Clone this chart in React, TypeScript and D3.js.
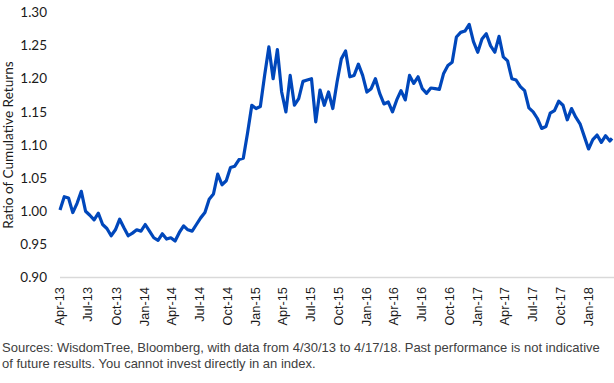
import * as d3 from 'd3';
import React, { useEffect, useRef } from 'react';

const WIDTH = 614;
const HEIGHT = 383;

// Series sampled every two weeks, starting 4/30/13
const START_DATE = "2013-04-30";
const END_DATE = "2018-04-17";
const STEP_DAYS = 14;

const ratioValues: number[] = [
  1.002, 1.022, 1.020, 0.998, 1.012, 1.030, 1.000, 0.994, 0.987, 0.997,
  0.980, 0.974, 0.963, 0.972, 0.988, 0.975, 0.963, 0.967, 0.972, 0.970,
  0.980, 0.970, 0.960, 0.956, 0.966, 0.958, 0.960, 0.955, 0.968, 0.978,
  0.972, 0.970, 0.980, 0.990, 0.998, 1.018, 1.026, 1.056, 1.040, 1.046,
  1.066, 1.068, 1.078, 1.080, 1.118, 1.160, 1.155, 1.158, 1.205, 1.248,
  1.200, 1.244, 1.180, 1.150, 1.205, 1.160, 1.170, 1.196, 1.198, 1.200,
  1.135, 1.183, 1.160, 1.180, 1.155, 1.195, 1.230, 1.242, 1.203, 1.205,
  1.222, 1.205, 1.180, 1.185, 1.200, 1.178, 1.162, 1.165, 1.150, 1.168,
  1.182, 1.168, 1.205, 1.193, 1.203, 1.185, 1.178, 1.186, 1.185, 1.184,
  1.208, 1.220, 1.225, 1.263, 1.270, 1.272, 1.282, 1.256, 1.240, 1.260,
  1.268, 1.250, 1.240, 1.264, 1.233, 1.227, 1.200, 1.198, 1.188, 1.182,
  1.156, 1.150, 1.140, 1.125, 1.128, 1.148, 1.152, 1.166, 1.160, 1.138,
  1.155, 1.142, 1.132, 1.113, 1.094, 1.108, 1.115, 1.104, 1.114, 1.106
];
const lastValue = 1.110;

const yTicks = [0.90, 0.95, 1.00, 1.05, 1.10, 1.15, 1.20, 1.25, 1.30];

// Quarterly axis labels, anchored at month ends
const xTickDates = [
  "2013-04-30", "2013-07-31", "2013-10-31", "2014-01-31", "2014-04-30",
  "2014-07-31", "2014-10-31", "2015-01-31", "2015-04-30", "2015-07-31",
  "2015-10-31", "2016-01-31", "2016-04-30", "2016-07-31", "2016-10-31",
  "2017-01-31", "2017-04-30", "2017-07-31", "2017-10-31", "2018-01-31"
];

const footnoteLines = [
  "Sources: WisdomTree, Bloomberg, with data from 4/30/13 to 4/17/18. Past performance is not indicative",
  "of future results. You cannot invest directly in an index."
];

const App: React.FC = () => {
  const svgRef = useRef<SVGSVGElement>(null);

  useEffect(() => {
    if (!svgRef.current) { return; }
    const svg = d3.select(svgRef.current);
    svg.selectAll("*").remove();

    const parseDate = d3.timeParse("%Y-%m-%d");
    const start = parseDate(START_DATE)!;
    const end = parseDate(END_DATE)!;

    const points = ratioValues.map((v, i) => ({
      date: d3.timeDay.offset(start, i * STEP_DAYS),
      value: v
    }));
    points.push({ date: end, value: lastValue });

    const xScale = d3.scaleTime()
      .domain([start, end])
      .range([60, 612]);

    const yScale = d3.scaleLinear()
      .domain([0.90, 1.30])
      .range([277.5, 12.5]);

    // Baseline
    svg.append("line")
      .attr("x1", 60)
      .attr("x2", 614)
      .attr("y1", yScale(0.90))
      .attr("y2", yScale(0.90))
      .attr("stroke", "#d9d9d9")
      .attr("stroke-width", 1.3);

    // Y labels
    svg.append("g")
      .selectAll("text")
      .data(yTicks)
      .enter().append("text")
      .attr("x", 47)
      .attr("y", d => yScale(d))
      .attr("dy", "0.35em")
      .attr("text-anchor", "end")
      .style("font-family", "Lato, 'Open Sans', sans-serif")
      .style("font-size", "13.5px")
      .attr("fill", "#1a1a1a")
      .text(d => d.toFixed(2));

    svg.append("text")
      .attr("transform", `translate(13,145) rotate(-90)`)
      .attr("text-anchor", "middle")
      .style("font-family", "Lato, 'Open Sans', sans-serif")
      .style("font-size", "13.6px")
      .attr("fill", "#1a1a1a")
      .text("Ratio of Cumulative Returns");

    // X labels, rotated
    const fmt = d3.timeFormat("%b-%y");
    svg.append("g")
      .selectAll("text")
      .data(xTickDates.map(s => parseDate(s)!))
      .enter().append("text")
      .attr("transform", d => `translate(${xScale(d)},287) rotate(-90)`)
      .attr("dy", "0.35em")
      .attr("text-anchor", "end")
      .style("font-family", "'Liberation Sans', Arial, sans-serif")
      .style("font-size", "12.8px")
      .attr("fill", "#1a1a1a")
      .text(d => fmt(d));

    const line = d3.line<{ date: Date, value: number }>()
      .x(d => xScale(d.date))
      .y(d => yScale(d.value));

    svg.append("path")
      .datum(points)
      .attr("fill", "none")
      .attr("stroke", "#0047bb")
      .attr("stroke-width", 3.2)
      .attr("stroke-linejoin", "round")
      .attr("d", line);

    // Footnote
    svg.append("g")
      .selectAll("text")
      .data(footnoteLines)
      .enter().append("text")
      .attr("x", 2)
      .attr("y", (_, i) => 352 + i * 16)
      .style("font-family", "'Liberation Sans', Arial, sans-serif")
      .style("font-size", "13px")
      .attr("fill", "#404040")
      .text(d => d);
  }, []);

  return (
    <div style={{ position: "absolute", left: 0, top: 0 }}>
      <svg ref={svgRef} width={WIDTH} height={HEIGHT} style={{ display: "block" }} />
    </div>
  );
};

export default App;
